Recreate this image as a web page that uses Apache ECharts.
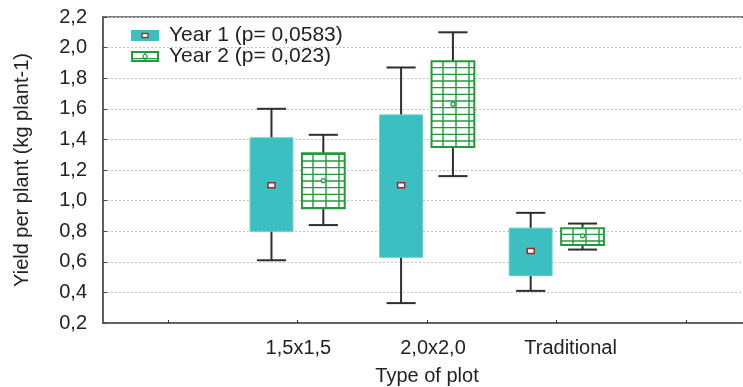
<!DOCTYPE html>
<html>
<head>
<meta charset="utf-8">
<script src="https://cdn.jsdelivr.net/npm/echarts@6/dist/echarts.min.js"></script>
<style>
html,body{margin:0;padding:0;background:#fff;overflow:hidden;}
#chart{width:743px;height:387px;}
</style>
</head>
<body>
<div id="chart"></div>
<script>
// ---- data ----
const categories = ['1,5x1,5', '2,0x2,0', 'Traditional'];
const seriesNames = ['Year 1 (p= 0,0583)', 'Year 2 (p= 0,023)'];

const year1Min  = [0.61, 0.33, 0.41];
const year1Q1   = [0.80, 0.63, 0.51];
const year1Q3   = [1.41, 1.56, 0.82];
const year1Max  = [1.60, 1.87, 0.92];
const year1Mean = [1.10, 1.10, 0.67];

const year2Min  = [0.84, 1.16, 0.68];
const year2Q1   = [0.95, 1.35, 0.71];
const year2Q3   = [1.31, 1.91, 0.82];
const year2Max  = [1.43, 2.10, 0.85];
const year2Mean = [1.13, 1.63, 0.77];

const yMin = 0.2, yMax = 2.2, yStep = 0.2;
const axisTitleX = 'Type of plot';
const axisTitleY = 'Yield per plant (kg plant-1)';

// ---- styles ----
const FONT = "'Liberation Sans', Arial, sans-serif";
const TEAL = '#3bbfc1';
const GREEN = '#239a3a';
const MEAN_RED = '#a3262b';
const WHISKER = '#2e2e2e';

// hatch pattern for year 2
function makeHatch() {
  const c = document.createElement('canvas');
  c.width = 13; c.height = 20;
  const g = c.getContext('2d');
  g.fillStyle = '#ffffff';
  g.fillRect(0, 0, c.width, c.height);
  g.strokeStyle = GREEN;
  g.lineWidth = 1.4;
  g.beginPath();
  g.moveTo(1, 0); g.lineTo(1, 20);
  [1, 7.67, 14.33].forEach(y => { g.moveTo(0, y); g.lineTo(13, y); });
  g.stroke();
  return c;
}
const hatch = makeHatch();

function legendIcon(kind) {
  const c = document.createElement('canvas');
  c.width = 28; c.height = 11;
  const g = c.getContext('2d');
  if (kind === 1) {
    g.fillStyle = TEAL; g.fillRect(0, 0, 28, 11);
    g.fillStyle = '#fff'; g.fillRect(11, 3.5, 6, 4);
    g.strokeStyle = MEAN_RED; g.lineWidth = 1.3; g.strokeRect(11, 3.5, 6, 4);
  } else {
    g.fillStyle = g.createPattern(hatch, 'repeat'); g.fillRect(0, 0, 28, 11);
    g.strokeStyle = GREEN; g.lineWidth = 2; g.strokeRect(1, 1, 26, 9);
    g.beginPath(); g.arc(14, 5.5, 2, 0, Math.PI * 2);
    g.fillStyle = '#fff'; g.fill(); g.lineWidth = 1.2; g.stroke();
  }
  return 'image://' + c.toDataURL();
}

function buildRows(mn, q1, q3, mx, mean) {
  return categories.map((_, i) => [i + 1, mn[i], q1[i], q3[i], mx[i], mean[i]]);
}

function makeRender(offsetFrac, kind) {
  return function (params, api) {
    const idx = api.value(0);
    const band = api.size([1, 0])[0];
    const cx = api.coord([idx, api.value(1)])[0] + band * offsetFrac;
    const yMn = api.coord([idx, api.value(1)])[1];
    const yQ1 = api.coord([idx, api.value(2)])[1];
    const yQ3 = api.coord([idx, api.value(3)])[1];
    const yMx = api.coord([idx, api.value(4)])[1];
    const yMean = api.coord([idx, api.value(5)])[1];
    const bw = band * 0.33, cw = band * 0.225;
    const lineStyle = { stroke: WHISKER, lineWidth: 2 };
    const children = [
      { type: 'line', shape: { x1: cx, y1: yQ3, x2: cx, y2: yMx }, style: lineStyle },
      { type: 'line', shape: { x1: cx, y1: yQ1, x2: cx, y2: yMn }, style: lineStyle },
      { type: 'line', shape: { x1: cx - cw / 2, y1: yMx, x2: cx + cw / 2, y2: yMx }, style: lineStyle },
      { type: 'line', shape: { x1: cx - cw / 2, y1: yMn, x2: cx + cw / 2, y2: yMn }, style: lineStyle }
    ];
    if (kind === 1) {
      children.push({ type: 'rect', shape: { x: cx - bw / 2, y: yQ3, width: bw, height: yQ1 - yQ3 },
        style: { fill: TEAL, stroke: '#5cc9ca', lineWidth: 1 } });
      children.push({ type: 'rect', shape: { x: cx - 3.5, y: yMean - 2.5, width: 7, height: 5 },
        style: { fill: '#fff', stroke: MEAN_RED, lineWidth: 1.5 } });
    } else {
      children.push({ type: 'rect', shape: { x: cx - bw / 2, y: yQ3, width: bw, height: yQ1 - yQ3 },
        style: { fill: { image: hatch, repeat: 'repeat' }, stroke: GREEN, lineWidth: 2 } });
      children.push({ type: 'circle', shape: { cx: cx, cy: yMean, r: 2 },
        style: { fill: '#fff', stroke: GREEN, lineWidth: 1.2 } });
    }
    return { type: 'group', children: children };
  };
}

const labelStyles = {
  c0: { fontSize: 20, color: '#222', fontFamily: FONT },
  c1: { fontSize: 20, color: '#222', fontFamily: FONT, padding: [0, 0, 0, 2] },
  c2: { fontSize: 20, color: '#222', fontFamily: FONT, padding: [0, 0, 0, 12] },
  c3: { fontSize: 20, color: '#222', fontFamily: FONT, padding: [0, 0, 0, 28] }
};

const chart = echarts.init(document.getElementById('chart'), null, { renderer: 'canvas' });
chart.setOption({
  animation: false,
  backgroundColor: '#fff',
  textStyle: { fontFamily: FONT },
  grid: { left: 103, top: 17, width: 648, height: 306, outerBoundsMode: 'none', containLabel: false,
    show: true, borderColor: '#555', borderWidth: 1.5, backgroundColor: 'transparent' },
  legend: {
    orient: 'vertical', left: 131, top: 25, itemGap: 0, padding: 0,
    itemWidth: 28, itemHeight: 11,
    textStyle: { fontSize: 21, color: '#222', fontFamily: FONT, lineHeight: 20, padding: [0, 0, 0, 5] },
    data: [
      { name: seriesNames[0], icon: legendIcon(1) },
      { name: seriesNames[1], icon: legendIcon(2) }
    ]
  },
  xAxis: {
    type: 'category',
    data: ['', ...categories, ''],
    boundaryGap: true,
    name: axisTitleX, nameLocation: 'middle', nameGap: 43,
    nameTextStyle: { fontSize: 20, color: '#222', fontFamily: FONT },
    axisLine: { lineStyle: { color: '#555', width: 1.5 } },
    axisTick: { show: true, inside: true, alignWithLabel: true, length: 3, interval: 0, lineStyle: { color: '#333' } },
    axisLabel: { fontSize: 20, color: '#222', margin: 15, interval: 0, fontFamily: FONT,
      formatter: (v, i) => v ? '{c' + Math.min(i, 3) + '|' + v + '}' : '',
      rich: labelStyles },
    splitLine: { show: false }
  },
  yAxis: {
    type: 'value', min: yMin, max: yMax, interval: yStep,
    name: axisTitleY, nameLocation: 'middle', nameGap: 71,
    nameTextStyle: { fontSize: 20, color: '#222', fontFamily: FONT },
    axisLine: { show: true, lineStyle: { color: '#555', width: 1.5 } },
    axisTick: { show: true, inside: true, length: 4, lineStyle: { color: '#444' } },
    axisLabel: { fontSize: 20, color: '#222', margin: 16, fontFamily: FONT,
      formatter: v => v.toFixed(1).replace('.', ',') },
    splitLine: { show: true, lineStyle: { color: '#c4c4c4', type: [2, 2], width: 1 } }
  },
  series: [
    { name: seriesNames[0], type: 'custom', itemStyle: { color: TEAL },
      renderItem: makeRender(-0.2, 1), encode: { x: 0, y: [1, 2, 3, 4, 5] },
      data: buildRows(year1Min, year1Q1, year1Q3, year1Max, year1Mean), z: 3 },
    { name: seriesNames[1], type: 'custom', itemStyle: { color: GREEN },
      renderItem: makeRender(0.2, 2), encode: { x: 0, y: [1, 2, 3, 4, 5] },
      data: buildRows(year2Min, year2Q1, year2Q3, year2Max, year2Mean), z: 3 }
  ]
});
</script>
</body>
</html>
